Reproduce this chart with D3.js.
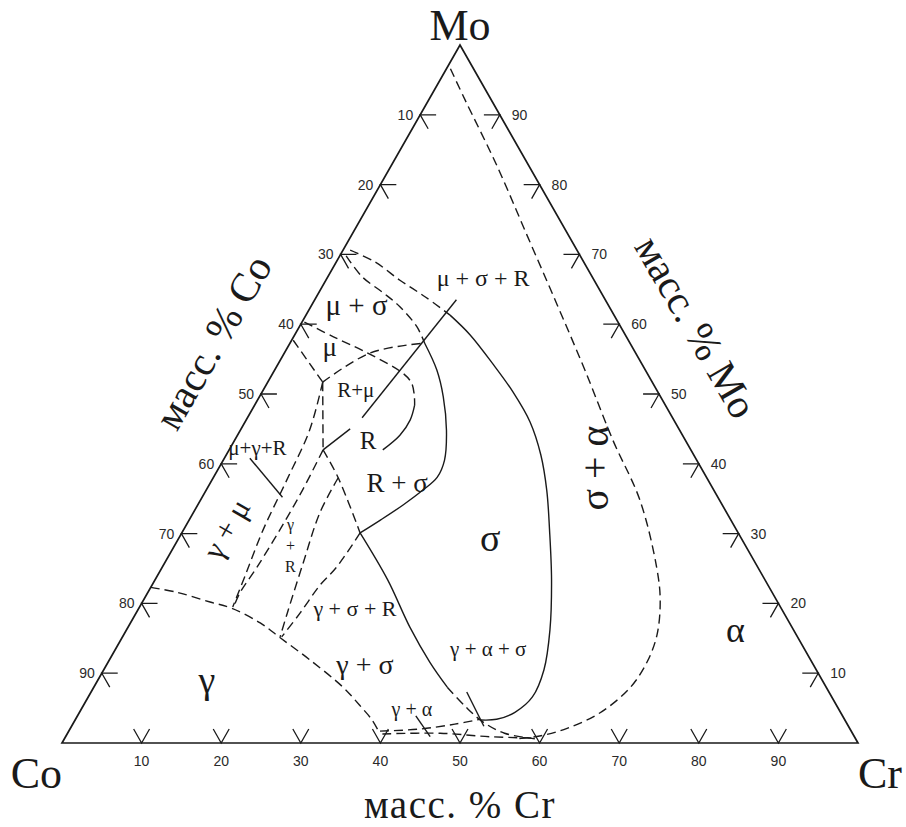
<!DOCTYPE html>
<html>
<head>
<meta charset="utf-8">
<script src="https://cdn.jsdelivr.net/npm/d3@7"></script>
<style>
  body { margin: 0; background: #fff; }
  svg { display: block; }
</style>
</head>
<body>
<svg id="chart" width="906" height="827"></svg>
<script>
// Co–Cr–Mo isothermal section. Every point is a composition [Cr mass %, Mo mass %]; Co = 100 - Cr - Mo.

const tickValues = [10, 20, 30, 40, 50, 60, 70, 80, 90];
const vertexNames = ["Co", "Cr", "Mo"];
const axisTitles = ["масс. % Cr", "масс. % Co", "масс. % Mo"];

// sigma + alpha / alpha boundary
const alphaBoundary = [[0.5, 96.6], [4.6, 92.1], [13.2, 82.8], [22.0, 72.8], [30.8, 62.8], [39.0, 53.4],
  [47.5, 43.4], [55.2, 34.8], [62.1, 25.2], [64.9, 20.5], [67.0, 15.5], [67.7, 11.6], [67.4, 7.9],
  [65.4, 4.3], [62.4, 2.1], [59.5, 1.0], [56.6, 0.6]];
// sigma single-phase field, outer (Cr-rich) boundary
const sigmaOuterUpper = [[0.9, 70.6], [4.9, 68.9], [9.3, 66.3], [13.7, 63.9], [18.1, 61.3]];
const sigmaOuter = [[18.1, 61.3], [22.0, 58.5], [27.1, 54.2], [31.5, 50.3], [35.8, 46.0], [39.5, 41.3],
  [42.8, 36.2], [46.0, 30.5], [49.8, 23.4], [53.2, 16.2], [55.3, 10.5], [55.8, 6.6], [54.7, 4.4],
  [52.9, 3.4], [50.9, 3.3]];
// mu + sigma / sigma boundary
const muSigma = [[0.8, 69.8], [4.3, 66.8], [8.1, 64.5], [11.2, 62.5], [14.8, 59.6], [16.9, 57.3]];
// mu + sigma + R tie line
const tieMuSigmaR = [[17.8, 63.5], [14.4, 46.6]];
// R field, Co-side edge
const rEdge = [[13.7, 45.0], [11.8, 42.0]];
// sigma single-phase field, inner (Co-side) boundary
const sigmaInner = [[16.9, 57.3], [20.4, 53.4], [23.1, 49.6], [25.9, 44.8], [27.8, 40.5], [28.1, 38.1],
  [27.2, 36.2], [25.8, 34.1], [24.0, 31.9], [22.4, 30.1]];
// mu + sigma / R + mu boundary, dashed then solid along the R field
const muRDashed = [[0.3, 60.3], [5.0, 58.2], [10.4, 55.9], [16.3, 53.0], [18.1, 51.6], [19.3, 49.9], [20.1, 48.4]];
const rRight = [[20.1, 48.4], [20.6, 46.3], [20.4, 44.1], [19.3, 42.0]];
// mu single-phase field boundaries
const muLower = [[0.2, 57.7], [6.9, 51.7]];
const muRight = [[6.9, 51.7], [10.8, 55.9], [16.9, 57.3]];
// gamma + mu + R three-phase triangle
const triMuR = [[6.9, 51.7], [11.8, 42.0]];
const triGammaMu = [[6.9, 51.7], [8.7, 44.8], [9.4, 37.7], [10.0, 30.5], [11.0, 24.1], [11.7, 19.5]];
const triGammaR = [[11.8, 42.0], [12.1, 36.2], [12.1, 30.5], [11.9, 25.2], [11.6, 21.5], [11.8, 19.6]];
// R + sigma / gamma boundary line through the R corner
const rSigmaDashed = [[11.8, 42.0], [15.7, 38.0], [22.4, 30.1]];
const sigmaGamma = [[22.4, 30.1], [29.2, 23.4], [35.4, 16.6], [40.4, 11.6], [44.4, 8.0]];
const sigmaGammaLow = [[44.4, 8.0], [48.1, 5.2], [51.4, 3.0], [54.9, 1.4], [59.1, 0.6]];
// gamma + sigma + R three-phase triangle
const triGammaRSide = [[15.7, 38.0], [15.9, 33.0], [17.4, 25.8], [19.0, 18.6], [19.8, 15.2]];
const triGammaSigmaSide = [[22.4, 30.1], [21.9, 25.2], [21.1, 22.6], [20.6, 18.6], [20.0, 15.2]];
// gamma solvus
const gammaBoundary = [[0, 22.3], [3.6, 21.6], [8.5, 20.2], [11.7, 19.3], [16.3, 17.2], [20.0, 15.0],
  [25.2, 11.9], [31.3, 8.0], [34.7, 5.4], [37.3, 3.3], [39.2, 1.4]];
// gamma + alpha field
const gammaAlphaUpper = [[39.1, 1.7], [44.0, 2.0], [48.0, 2.7], [50.8, 3.4]];
const gammaAlphaLower = [[39.6, 1.3], [46.8, 1.4], [53.3, 0.9], [59.1, 0.7]];
// short tie-line strokes and label pointer
const tieStrokes = [
  [[42.5, 3.9], [45.8, 0.9]],
  [[47.2, 7.3], [51.8, 2.4]],
  [[3.2, 40.8], [10.1, 35.2]]
];

// phase-field labels and their anchor compositions
const phaseLabels = ["μ + σ + R", "μ + σ", "μ", "R+μ", "R", "R + σ", "μ+γ+R", "γ + μ", "γ\n+\nR",
  "γ + σ + R", "γ + σ", "γ + α + σ", "γ + α", "σ", "σ + α", "α", "γ"];
const labelAnchors = [[19.6, 66.6], [5.6, 62.8], [5.3, 56.7], [11.6, 50.6], [16.8, 43.3], [23.5, 37.2],
  [3.4, 42.3], [5.3, 30.7], [14.5, 28.4], [27.2, 19.2], [32.4, 11.3], [46.8, 13.5], [41.5, 4.9],
  [39.1, 29.4], [47.2, 39.4], [76.5, 16.2], [13.7, 9.0]];

// ---- styling ----
const labelSize = {"μ + σ + R": 24, "μ + σ": 29, "μ": 27, "R+μ": 21, "R": 25, "R + σ": 27, "μ+γ+R": 21,
  "γ + μ": 31, "γ\n+\nR": 16, "γ + σ + R": 22, "γ + σ": 28, "γ + α + σ": 21, "γ + α": 20,
  "σ": 38, "σ + α": 40, "α": 36, "γ": 38};
const labelRotate = {"γ + μ": -60, "σ + α": -90};
const ink = "#1a1a1a";
const serif = "'Liberation Serif', 'Times New Roman', serif";
const sans = "'Liberation Sans', Arial, sans-serif";

const svg = d3.select("#chart");
const origin = {x: 62, y: 743};
const side = d3.scaleLinear().domain([0, 100]).range([0, 796]);
const height = d3.scaleLinear().domain([0, 100]).range([0, 698]);
const px = c => origin.x + side(c[0]) + side(c[1]) / 2;
const py = c => origin.y - height(c[1]);

const smooth = d3.line().x(px).y(py).curve(d3.curveCatmullRom.alpha(0.5));
const straight = d3.line().x(px).y(py);

// triangle frame
svg.append("path")
  .attr("d", straight([[0, 0], [100, 0], [0, 100]]) + "Z")
  .attr("fill", "none").attr("stroke", ink).attr("stroke-width", 1.7);

// axis ticks (two short strokes along the composition grid) and numbers
const arm = 2;
const ticks = svg.append("g").attr("stroke", ink).attr("stroke-width", 1.3).attr("fill", "none");
const tickText = svg.append("g").attr("font-family", sans).attr("font-size", 14).attr("fill", "#2a2a2a");
tickValues.forEach(v => {
  // base: Cr %
  const b = [v, 0];
  ticks.append("path").attr("d", straight([[v - arm, arm], b, [v, arm]]));
  tickText.append("text").attr("x", px(b)).attr("y", py(b) + 23).attr("text-anchor", "middle").text(v);
  // left side: Co %
  const l = [0, 100 - v];
  ticks.append("path").attr("d", straight([[arm, 100 - v], l, [arm, 100 - v - arm]]));
  tickText.append("text").attr("x", px(l) - 7).attr("y", py(l) + 5).attr("text-anchor", "end").text(v);
  // right side: Mo %
  const r = [100 - v, v];
  ticks.append("path").attr("d", straight([[100 - v - arm, v], r, [100 - v, v - arm]]));
  tickText.append("text").attr("x", px(r) + 12).attr("y", py(r) + 5).attr("text-anchor", "start").text(v);
});

// phase boundaries
const boundaries = [
  {pts: alphaBoundary, dash: true, curve: true},
  {pts: sigmaOuterUpper, dash: true, curve: true},
  {pts: sigmaOuter, dash: false, curve: true},
  {pts: muSigma, dash: true, curve: true},
  {pts: tieMuSigmaR, dash: false, curve: false},
  {pts: rEdge, dash: false, curve: false},
  {pts: sigmaInner, dash: false, curve: true},
  {pts: muRDashed, dash: true, curve: true},
  {pts: rRight, dash: false, curve: true},
  {pts: muLower, dash: true, curve: false},
  {pts: muRight, dash: true, curve: true},
  {pts: triMuR, dash: true, curve: false},
  {pts: triGammaMu, dash: true, curve: true},
  {pts: triGammaR, dash: true, curve: true},
  {pts: rSigmaDashed, dash: true, curve: true},
  {pts: sigmaGamma, dash: false, curve: true},
  {pts: sigmaGammaLow, dash: true, curve: true},
  {pts: triGammaRSide, dash: true, curve: true},
  {pts: triGammaSigmaSide, dash: true, curve: true},
  {pts: gammaBoundary, dash: true, curve: true},
  {pts: gammaAlphaUpper, dash: true, curve: true},
  {pts: gammaAlphaLower, dash: true, curve: true}
];
svg.append("g").selectAll("path").data(boundaries).join("path")
  .attr("d", d => (d.curve ? smooth : straight)(d.pts))
  .attr("fill", "none").attr("stroke", ink).attr("stroke-width", 1.4)
  .attr("stroke-dasharray", d => d.dash ? "9,5" : null);

svg.append("g").selectAll("path").data(tieStrokes).join("path")
  .attr("d", d => straight(d))
  .attr("fill", "none").attr("stroke", ink).attr("stroke-width", 1.4);

// phase-field labels
const lab = svg.append("g").attr("font-family", serif).attr("fill", ink).attr("text-anchor", "middle");
phaseLabels.forEach((name, i) => {
  const c = labelAnchors[i];
  const x = px(c), y = py(c);
  const t = lab.append("text")
    .attr("font-size", labelSize[name])
    .attr("dominant-baseline", "central")
    .attr("transform", `translate(${x},${y}) rotate(${labelRotate[name] || 0})`);
  const lines = name.split("\n");
  if (lines.length === 1) {
    t.text(name);
  } else {
    lines.forEach((s, k) => t.append("tspan").attr("x", 0).attr("y", (k - 1) * 21).text(s));
  }
});

// vertex names
const corners = [[0, 0], [100, 0], [0, 100]];
const vt = svg.append("g").attr("font-family", serif).attr("font-size", 44).attr("fill", ink);
vt.append("text").attr("x", px(corners[0])).attr("y", py(corners[0]) + 45).attr("text-anchor", "end").text(vertexNames[0]);
vt.append("text").attr("x", px(corners[1])).attr("y", py(corners[1]) + 45).attr("text-anchor", "start").text(vertexNames[1]);
vt.append("text").attr("x", px(corners[2])).attr("y", py(corners[2]) - 5).attr("text-anchor", "middle").text(vertexNames[2]);

// axis titles
const at = svg.append("g").attr("font-family", serif).attr("fill", ink).attr("text-anchor", "middle");
at.append("text").attr("font-size", 39).attr("letter-spacing", 1.5)
  .attr("x", px([50, 0])).attr("y", py([50, 0]) + 75).text(axisTitles[0]);
const coMid = [0, 50], moMid = [50, 50];
at.append("text").attr("font-size", 41)
  .attr("transform", `translate(${px(coMid) - 36},${py(coMid) - 45}) rotate(-60)`).text(axisTitles[1]);
at.append("text").attr("font-size", 41)
  .attr("transform", `translate(${px(moMid) + 25},${py(moMid) - 60}) rotate(60)`).text(axisTitles[2]);
</script>
</body>
</html>
